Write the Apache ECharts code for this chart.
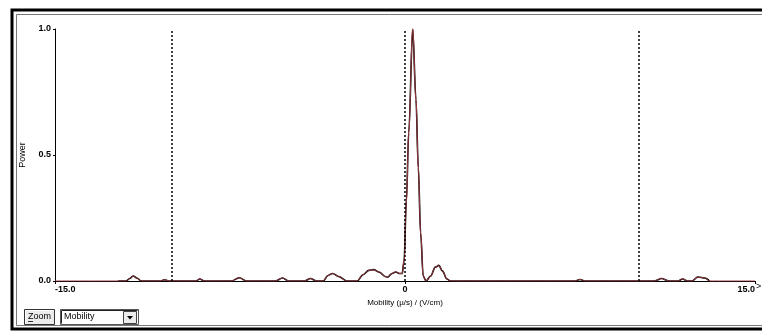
<!DOCTYPE html>
<html>
<head>
<meta charset="utf-8">
<script src="https://cdn.jsdelivr.net/npm/echarts@6/dist/echarts.min.js"></script>
<style>
  html, body { margin: 0; padding: 0; background: #fff; }
  #chart { width: 762px; height: 333px; }
</style>
</head>
<body>
<div id="chart"></div>
<script>
// mobility (µ/s)/(V/cm) and power
const mobility = [
  -12.3, -11.95, -11.8, -11.65, -11.5, -11.3, -10.5, -10.3, -10.1, -8.95, -8.8, -8.6,
  -7.45, -7.1, -6.8, -5.55, -5.25, -5.0, -4.3, -4.05, -3.8, -3.5, -3.3, -3.1, -2.85, -2.5,
  -2.05, -1.8, -1.55, -1.35, -1.1, -0.85, -0.75, -0.55, -0.4, -0.25, -0.12, -0.04,
  0.06, 0.16, 0.33, 0.47, 0.57, 0.67, 0.78, 0.9, 1.1, 1.3, 1.45, 1.6, 1.8, 1.95,
  7.3, 7.5, 7.7, 10.7, 11.0, 11.3, 11.7, 11.9, 12.1, 12.3, 12.55, 12.85, 13.05
]
const power = [
  0, 0, 0.01, 0.02, 0.012, 0, 0, 0.005, 0, 0, 0.008, 0,
  0, 0.013, 0, 0, 0.012, 0, 0, 0.01, 0, 0, 0.022, 0.03, 0.018, 0,
  0, 0.025, 0.042, 0.045, 0.035, 0.018, 0.015, 0.03, 0.036, 0.03, 0.03, 0.08,
  0.32, 0.59, 1.0, 0.72, 0.45, 0.19, 0.02, 0, 0.02, 0.055, 0.062, 0.04, 0.008, 0,
  0, 0.006, 0, 0, 0.01, 0, 0, 0.008, 0, 0, 0.016, 0.012, 0
]
const xRange = [-15, 15]
const yTicks = [0, 0.5, 1]
const dividers = [-10, 0, 10]

const pts = mobility.map((m, i) => [m, power[i]])
const fullPts = [[xRange[0], 0], ...pts, [xRange[1], 0]]

const chart = echarts.init(document.getElementById('chart'))
const labelFont = { fontFamily: 'Liberation Sans, Arial', fontSize: 9, fontWeight: 'bold', color: '#000' }

chart.setOption({
  animation: false,
  grid: { left: 55, right: 7, top: 29, bottom: 52 },
  xAxis: {
    type: 'value',
    min: xRange[0], max: xRange[1], interval: 15,
    name: 'Mobility (µ/s) / (V/cm)',
    nameLocation: 'middle', nameGap: 15,
    nameTextStyle: { fontFamily: 'Liberation Sans, Arial', fontSize: 8, color: '#000' },
    axisLine: { onZero: false, lineStyle: { color: '#000', width: 1 } },
    axisTick: { length: 3, lineStyle: { color: '#000' } },
    splitLine: { show: false },
    axisLabel: Object.assign({
      margin: 4, alignMinLabel: 'left', alignMaxLabel: 'right',
      formatter: v => v === 0 ? '0' : v.toFixed(1)
    }, labelFont)
  },
  yAxis: {
    type: 'value',
    min: yTicks[0], max: yTicks[2], interval: 0.5,
    name: 'Power',
    nameLocation: 'middle', nameGap: 28,
    nameTextStyle: { fontFamily: 'Liberation Sans, Arial', fontSize: 9, color: '#000' },
    axisLine: { show: true, onZero: false, lineStyle: { color: '#000', width: 1 } },
    axisTick: { show: true, length: 2, lineStyle: { color: '#000' } },
    splitLine: { show: false },
    axisLabel: Object.assign({ margin: 4, formatter: v => v.toFixed(1) }, labelFont)
  },
  series: [
    {
      type: 'line', data: pts, symbol: 'none', smooth: 0.35, smoothMonotone: 'x',
      lineStyle: { color: '#000', width: 1.6 }, z: 2,
      markLine: {
        silent: true, symbol: 'none', label: { show: false },
        lineStyle: { color: '#000', type: [2, 2], width: 1.5 },
        data: dividers.map(d => ({ xAxis: d }))
      }
    },
    {
      type: 'line', data: fullPts, symbol: 'none', smooth: 0.35, smoothMonotone: 'x',
      lineStyle: { color: '#9a3b40', width: 1 }, z: 3
    }
  ],
  graphic: [
    { type: 'rect', shape: { x: 12, y: 10, width: 760, height: 319 }, style: { fill: 'none', stroke: '#000', lineWidth: 3 }, z: 10 },
    { type: 'rect', shape: { x: 16.5, y: 14.5, width: 752, height: 311 }, style: { fill: 'none', stroke: '#777', lineWidth: 1 }, z: 10 },
    { type: 'text', left: 756, top: 282, style: { text: '>', font: '9px Liberation Sans', fill: '#000' } },
    // Zoom button
    { type: 'rect', shape: { x: 24.5, y: 309.5, width: 30, height: 15 }, style: { fill: '#ececec', stroke: '#333', lineWidth: 1 } },
    { type: 'polyline', shape: { points: [[25.5, 323.5], [25.5, 310.5], [53.5, 310.5]] }, style: { stroke: '#fff', lineWidth: 1, fill: 'none' } },
    { type: 'text', left: 28, top: 312, style: { text: 'Zoom', font: '9px Liberation Sans', fill: '#000' } },
    { type: 'line', shape: { x1: 28, y1: 321.5, x2: 33, y2: 321.5 }, style: { stroke: '#000', lineWidth: 0.8 } },
    // Mobility dropdown
    { type: 'rect', shape: { x: 60.5, y: 309.5, width: 78, height: 15 }, style: { fill: '#fff', stroke: '#555', lineWidth: 1 } },
    { type: 'polyline', shape: { points: [[61.5, 323.5], [61.5, 310.5], [137.5, 310.5]] }, style: { stroke: '#222', lineWidth: 1, fill: 'none' } },
    { type: 'text', left: 64, top: 312, style: { text: 'Mobility', font: '9px Liberation Sans', fill: '#000' } },
    { type: 'rect', shape: { x: 123.5, y: 311.5, width: 13, height: 12 }, style: { fill: '#ececec', stroke: '#444', lineWidth: 1 } },
    { type: 'polygon', shape: { points: [[127, 316], [133, 316], [130, 319.5]] }, style: { fill: '#000' } }
  ]
})
</script>
</body>
</html>
